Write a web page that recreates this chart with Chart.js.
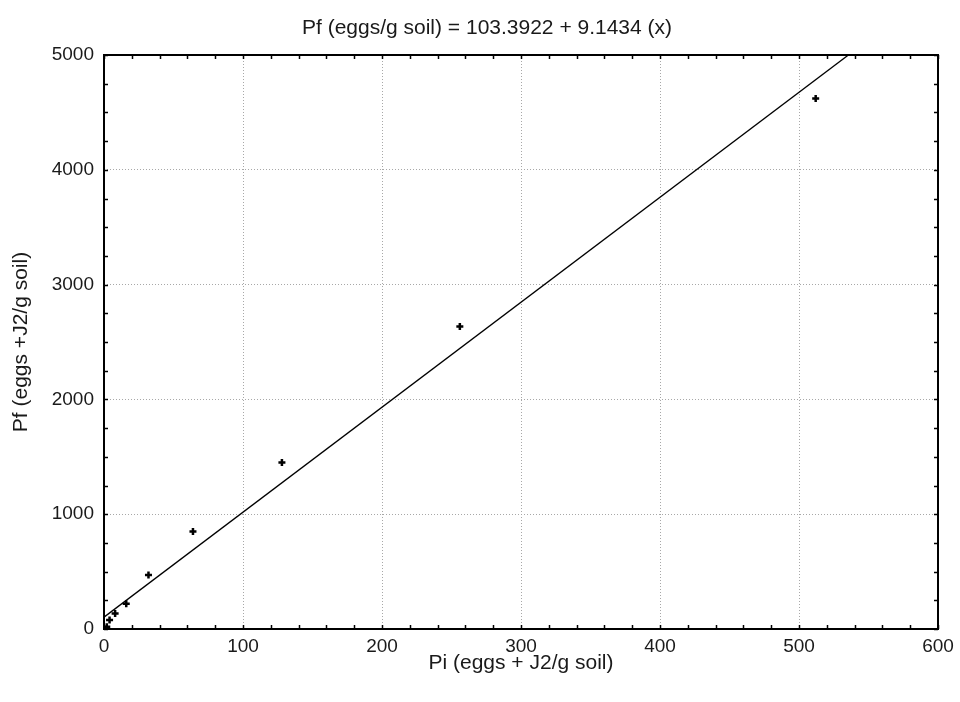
<!DOCTYPE html>
<html><head><meta charset="utf-8">
<script src="https://cdn.jsdelivr.net/npm/chart.js@4/dist/chart.umd.min.js"></script>
<style>html,body{margin:0;padding:0;background:#fff}canvas{display:block}</style>
</head><body>
<canvas id="c" width="960" height="702"></canvas>
<script>
// ---- data ----
const piValues = [2, 4, 8, 16, 32, 64, 128, 256, 512];
const pfValues = [20, 78, 135, 220, 470, 850, 1450, 2635, 4620];
const fitIntercept = 103.3922;
const fitSlope = 9.1434;
const xTickValues = [0, 100, 200, 300, 400, 500, 600];
const yTickValues = [0, 1000, 2000, 3000, 4000, 5000];
const xMinorStep = 20;
const yMinorStep = 250;
const chartTitle = 'Pf (eggs/g soil) = 103.3922 + 9.1434 (x)';
const xTitle = 'Pi (eggs + J2/g soil)';
const yTitle = 'Pf (eggs +J2/g soil)';

const FONT = "'Liberation Sans', Arial, sans-serif";
const TXT = '#1a1a1a';

const xMin = xTickValues[0], xMax = xTickValues[xTickValues.length - 1];
const yMin = yTickValues[0], yMax = yTickValues[yTickValues.length - 1];

const scatterData = piValues.map((x, i) => ({x: x, y: pfValues[i]}));
const fitData = [xMin, xMax].map(x => ({x: x, y: fitIntercept + fitSlope * x}));

const titlePlugin = {
  id: 'topTitle',
  afterDraw(chart) {
    const ctx = chart.ctx;
    ctx.save();
    ctx.fillStyle = TXT;
    ctx.font = "21px " + FONT;
    ctx.textAlign = 'center';
    ctx.textBaseline = 'middle';
    ctx.fillText(chartTitle, 487, 28);
    ctx.restore();
  }
};

const framePlugin = {
  id: 'frame',
  afterDatasetsDraw(chart) {
    const {ctx, chartArea: a, scales: {x, y}} = chart;
    ctx.save();
    ctx.strokeStyle = '#000';
    ctx.lineWidth = 1.5;
    const len = 4;
    ctx.beginPath();
    for (let v = xMin; v <= xMax; v += xMinorStep) {
      const px = Math.round(x.getPixelForValue(v)) + 0.5;
      ctx.moveTo(px, a.bottom); ctx.lineTo(px, a.bottom - len);
      ctx.moveTo(px, a.top); ctx.lineTo(px, a.top + len);
    }
    for (let v = yMin; v <= yMax; v += yMinorStep) {
      const py = Math.round(y.getPixelForValue(v)) + 0.5;
      ctx.moveTo(a.left, py); ctx.lineTo(a.left + len, py);
      ctx.moveTo(a.right, py); ctx.lineTo(a.right - len, py);
    }
    ctx.stroke();
    ctx.lineWidth = 2;
    ctx.strokeRect(a.left, a.top, a.right - a.left, a.bottom - a.top);
    ctx.restore();
  }
};

const plain = v => String(v);

new Chart(document.getElementById('c'), {
  type: 'scatter',
  data: {
    datasets: [
      {
        type: 'line',
        label: 'fit',
        data: fitData,
        borderColor: '#000',
        borderWidth: 1.3,
        pointRadius: 0,
        fill: false,
        tension: 0
      },
      {
        label: 'Pf',
        data: scatterData,
        pointStyle: 'cross',
        pointRadius: 3.5,
        borderColor: '#000',
        backgroundColor: '#000',
        borderWidth: 2.5
      }
    ]
  },
  options: {
    responsive: false,
    animation: false,
    devicePixelRatio: 1,
    layout: {padding: {top: 55, right: 22, bottom: 0, left: 0}},
    plugins: {
      legend: {display: false},
      tooltip: {enabled: false},
      title: {display: false}
    },
    scales: {
      x: {
        type: 'linear',
        min: xMin, max: xMax,
        afterBuildTicks: s => { s.ticks = xTickValues.map(v => ({value: v})); },
        afterFit: s => { s.height = 73; },
        ticks: {color: TXT, font: {family: FONT, size: 19}, padding: 6, maxRotation: 0, callback: plain},
        grid: {
          drawTicks: false,
          color: c => (c.tick && (c.tick.value === xMin || c.tick.value === xMax)) ? 'rgba(0,0,0,0)' : '#a8a8a8',
          lineWidth: 1
        },
        border: {display: false, dash: [1, 2]},
        title: {display: true, text: xTitle, color: TXT, font: {family: FONT, size: 21, lineHeight: 1.2}, padding: {top: 0, bottom: 26}}
      },
      y: {
        type: 'linear',
        min: yMin, max: yMax,
        afterBuildTicks: s => { s.ticks = yTickValues.map(v => ({value: v})); },
        afterFit: s => { s.width = 104; },
        ticks: {color: TXT, font: {family: FONT, size: 19}, padding: 10, callback: plain},
        grid: {
          drawTicks: false,
          color: c => (c.tick && (c.tick.value === yMin || c.tick.value === yMax)) ? 'rgba(0,0,0,0)' : '#a8a8a8',
          lineWidth: 1
        },
        border: {display: false, dash: [1, 2]},
        title: {display: true, text: yTitle, color: TXT, font: {family: FONT, size: 21, lineHeight: 1.2}, padding: {top: 9, bottom: 0}}
      }
    }
  },
  plugins: [framePlugin, titlePlugin]
});
</script>
</body></html>
